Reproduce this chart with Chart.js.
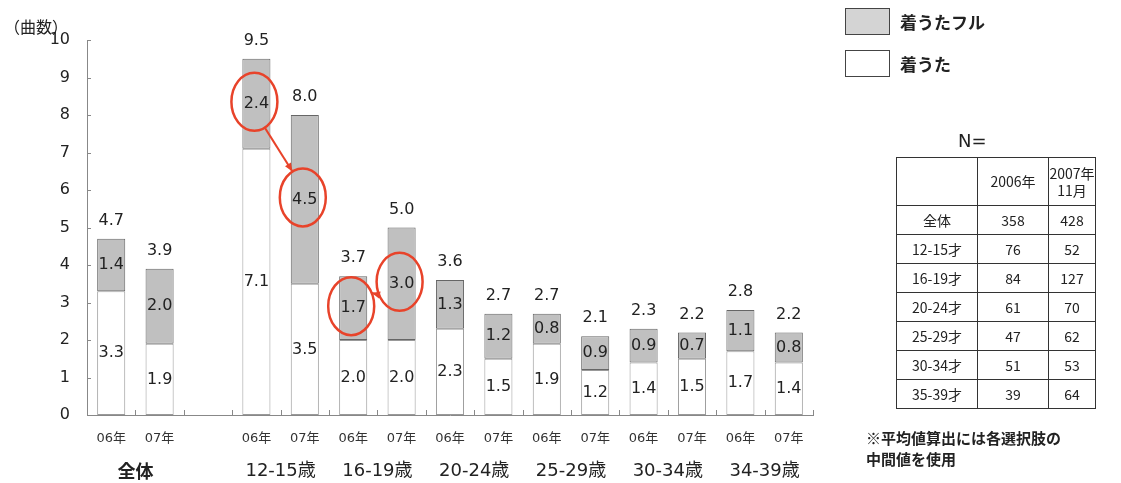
<!DOCTYPE html>
<html>
<head>
<meta charset="utf-8">
<script src="https://cdn.jsdelivr.net/npm/chart.js@4"></script>
<style>
    body { margin: 0; background: #fff; }
    #wrap { position: relative; width: 1121px; height: 483px; font-family: "DejaVu Sans", "Noto Sans CJK JP", sans-serif; color: #222; }
    #unit { position: absolute; left: 4px; top: 14px; font-size: 16px; font-family: "Noto Sans CJK JP", sans-serif; }
    .legend { position: absolute; left: 845px; font-size: 17px; font-weight: bold; font-family: "Noto Sans CJK JP", sans-serif; }
    .legend span.box { position: absolute; left: 0; top: 0; width: 45px; height: 27px; border: 1px solid #444; box-sizing: border-box; }
    .legend span.txt { position: absolute; left: 55px; top: 1px; white-space: nowrap; }
    #nlabel { position: absolute; left: 958px; top: 130px; font-size: 18px; }
    #ntable { position: absolute; left: 896px; top: 157px; border-collapse: collapse; font-family: "Noto Sans CJK JP", sans-serif; font-size: 14px; }
    #ntable td { border: 1px solid #333; text-align: center; height: 28px; padding: 0; line-height: 17px; }
    #ntable tr.head td { height: 47px; }
    #note { position: absolute; left: 866px; top: 427px; font-size: 15px; font-weight: bold; line-height: 21px; font-family: "Noto Sans CJK JP", sans-serif; }
</style>
</head>
<body>
<div id="wrap">
    <canvas id="barChart"></canvas>
    <div id="unit">（曲数）</div>
    <div class="legend" style="top:8px"><span class="box" style="background:#d4d4d4"></span><span class="txt">着うたフル</span></div>
    <div class="legend" style="top:50px"><span class="box" style="background:#fff"></span><span class="txt">着うた</span></div>
    <div id="nlabel">N=</div>
    <table id="ntable"></table>
    <div id="note">※平均値算出には各選択肢の<br>中間値を使用</div>
</div>
<script>
// chart data (null = empty slot between 全体 and the age groups)
const yearLabels = ['06年', '07年', '', '06年', '07年', '06年', '07年', '06年', '07年', '06年', '07年', '06年', '07年', '06年', '07年'];
const groupLabels = ['全体', '12-15歳', '16-19歳', '20-24歳', '25-29歳', '30-34歳', '34-39歳'];
const groupStart = [0, 3, 5, 7, 9, 11, 13];
const utaValues = [3.3, 1.9, null, 7.1, 3.5, 2.0, 2.0, 2.3, 1.5, 1.9, 1.2, 1.4, 1.5, 1.7, 1.4];
const fullValues = [1.4, 2.0, null, 2.4, 4.5, 1.7, 3.0, 1.3, 1.2, 0.8, 0.9, 0.9, 0.7, 1.1, 0.8];
const totalValues = [4.7, 3.9, null, 9.5, 8.0, 3.7, 5.0, 3.6, 2.7, 2.7, 2.1, 2.3, 2.2, 2.8, 2.2];
const yTicks = [0, 1, 2, 3, 4, 5, 6, 7, 8, 9, 10];

// highlighted 着うたフル segments and arrows between them
const circled = [3, 4, 5, 6];
const arrows = [[3, 4], [6, 5]];

// sample size table
const tableHead = ['', '2006年', '2007年<br>11月'];
const tableRows = ['全体', '12-15才', '16-19才', '20-24才', '25-29才', '30-34才', '35-39才'];
const n2006 = [358, 76, 84, 61, 47, 51, 39];
const n2007 = [428, 52, 127, 70, 62, 53, 64];

document.addEventListener('DOMContentLoaded', function() {
    const table = document.getElementById('ntable');
    let html = '<tr class="head">' + tableHead.map((h, i) => `<td style="width:${i === 0 ? 80 : i === 1 ? 70 : 46}px">${h}</td>`).join('') + '</tr>';
    tableRows.forEach((r, i) => {
        html += `<tr><td>${r}</td><td>${n2006[i]}</td><td>${n2007[i]}</td></tr>`;
    });
    table.innerHTML = html;

    const labelFont = '16px "DejaVu Sans", sans-serif';

    // value labels, inner ticks, group names and red highlights
    const decorations = {
        id: 'decorations',
        afterDatasetsDraw(chart) {
            const ctx = chart.ctx;
            const x = chart.scales.x;
            const y = chart.scales.y;
            const area = chart.chartArea;
            ctx.save();

            // inner tick marks
            ctx.strokeStyle = '#888';
            ctx.lineWidth = 1;
            const step = (x.getPixelForValue(1) - x.getPixelForValue(0));
            for (let i = 0; i <= yearLabels.length; i++) {
                const px = Math.round(x.getPixelForValue(0) - step / 2 + i * step) + 0.5;
                ctx.beginPath();
                ctx.moveTo(px, area.bottom);
                ctx.lineTo(px, area.bottom - 5);
                ctx.stroke();
            }
            yTicks.forEach(v => {
                const py = Math.round(y.getPixelForValue(v)) + 0.5;
                ctx.beginPath();
                ctx.moveTo(area.left, py);
                ctx.lineTo(area.left + 4, py);
                ctx.stroke();
            });

            // segment labels and totals
            ctx.fillStyle = '#222';
            ctx.font = labelFont;
            ctx.textAlign = 'center';
            ctx.textBaseline = 'middle';
            chart.data.datasets.forEach((ds, di) => {
                chart.getDatasetMeta(di).data.forEach((bar, i) => {
                    if (ds.data[i] == null) return;
                    ctx.fillText(ds.data[i].toFixed(1), bar.x, (bar.y + bar.base) / 2);
                });
            });
            const topMeta = chart.getDatasetMeta(1);
            totalValues.forEach((t, i) => {
                if (t == null) return;
                const bar = topMeta.data[i];
                ctx.fillText(t.toFixed(1), bar.x, y.getPixelForValue(t) - 18);
            });

            // group names
            groupLabels.forEach((g, gi) => {
                const i0 = groupStart[gi];
                const cx = (x.getPixelForValue(i0) + x.getPixelForValue(i0 + 1)) / 2;
                ctx.font = gi === 0 ? 'bold 18px "Noto Sans CJK JP", sans-serif' : '18px "DejaVu Sans", "Noto Sans CJK JP", sans-serif';
                ctx.fillText(g, cx, area.bottom + 56);
            });

            // red ellipses and arrows
            const rx = 23, ry = 29;
            const centre = i => {
                const bar = topMeta.data[i];
                return { x: bar.x - 2, y: (bar.y + bar.base) / 2 - 2 };
            };
            ctx.strokeStyle = '#e8432a';
            ctx.fillStyle = '#e8432a';
            ctx.lineWidth = 2.5;
            circled.forEach(i => {
                const c = centre(i);
                ctx.beginPath();
                ctx.ellipse(c.x, c.y, rx, ry, 0, 0, Math.PI * 2);
                ctx.stroke();
            });
            arrows.forEach(([from, to]) => {
                const a = centre(from), b = centre(to);
                const ang = Math.atan2(b.y - a.y, b.x - a.x);
                const sx = a.x + rx * Math.cos(ang), sy = a.y + ry * Math.sin(ang);
                const ex = b.x - rx * Math.cos(ang), ey = b.y - ry * Math.sin(ang);
                ctx.lineWidth = 2;
                ctx.beginPath();
                ctx.moveTo(sx, sy);
                ctx.lineTo(ex, ey);
                ctx.stroke();
                const la = Math.atan2(ey - sy, ex - sx);
                ctx.beginPath();
                ctx.moveTo(ex, ey);
                ctx.lineTo(ex - 9 * Math.cos(la - 0.4), ey - 9 * Math.sin(la - 0.4));
                ctx.lineTo(ex - 9 * Math.cos(la + 0.4), ey - 9 * Math.sin(la + 0.4));
                ctx.closePath();
                ctx.fill();
            });
            ctx.restore();
        }
    };

    const barCtx = document.getElementById('barChart').getContext('2d');
    new Chart(barCtx, {
        type: 'bar',
        data: {
            labels: yearLabels,
            datasets: [
                {
                    label: '着うた',
                    data: utaValues,
                    backgroundColor: '#ffffff',
                    borderColor: '#999',
                    borderWidth: 1,
                    borderSkipped: false
                },
                {
                    label: '着うたフル',
                    data: fullValues,
                    backgroundColor: '#c0c0c0',
                    borderColor: '#666',
                    borderWidth: 1,
                    borderSkipped: false
                }
            ]
        },
        options: {
            responsive: true,
            maintainAspectRatio: false,
            animation: false,
            barPercentage: 0.58,
            categoryPercentage: 1,
            layout: { padding: { top: 40, right: 308, left: 0, bottom: 0 } },
            plugins: {
                legend: { display: false },
                tooltip: { enabled: false }
            },
            scales: {
                x: {
                    stacked: true,
                    grid: { display: false, drawTicks: false },
                    border: { color: '#888' },
                    ticks: {
                        autoSkip: false,
                        maxRotation: 0,
                        padding: 16,
                        color: '#333',
                        font: { family: '"DejaVu Sans", "Noto Sans CJK JP", sans-serif', size: 13 }
                    },
                    afterFit: s => { s.height = 68; }
                },
                y: {
                    stacked: true,
                    min: 0,
                    max: 10,
                    grid: { display: false, drawTicks: false },
                    border: { color: '#888' },
                    ticks: {
                        stepSize: 1,
                        padding: 17,
                        color: '#222',
                        font: { family: '"DejaVu Sans", sans-serif', size: 16 }
                    },
                    afterFit: s => { s.width = 87; }
                }
            }
        },
        plugins: [decorations]
    });
});
</script>
</body>
</html>
